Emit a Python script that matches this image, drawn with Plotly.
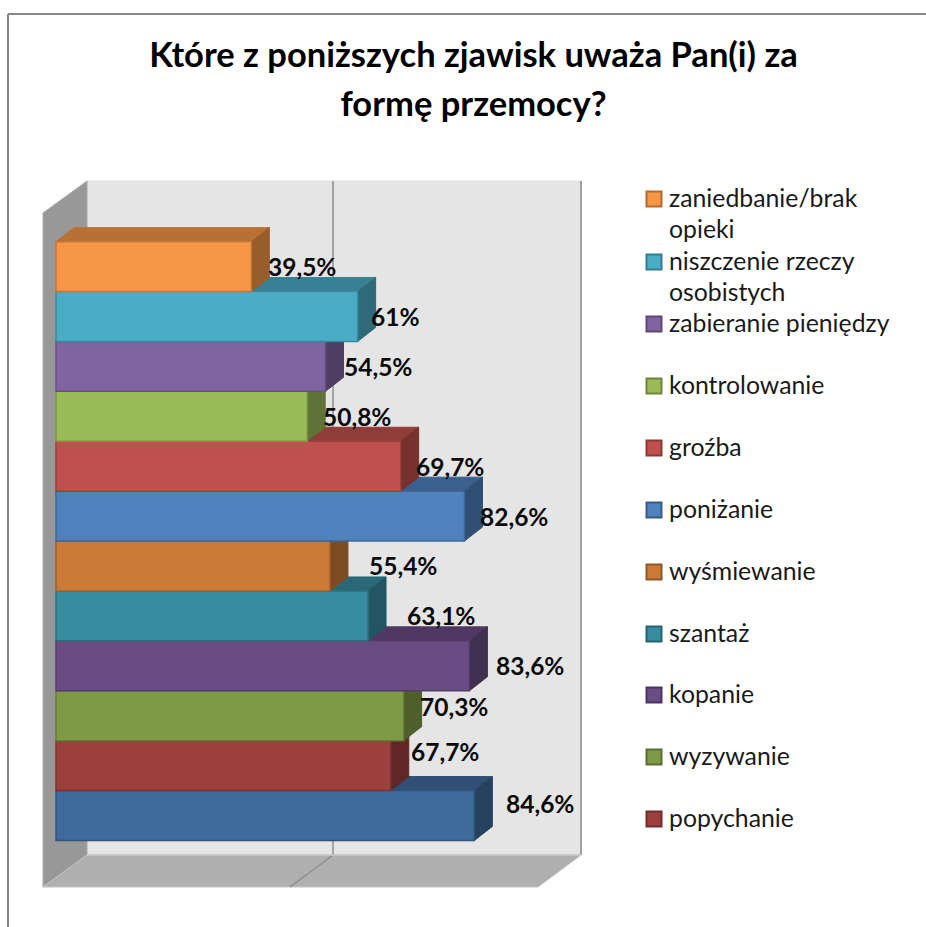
import plotly.graph_objects as go

# ---- data (listed bottom bar first) ----
categories = ["", "popychanie", "wyzywanie", "kopanie", "szantaż", "wyśmiewanie",
              "poniżanie", "groźba", "kontrolowanie", "zabieranie pieniędzy",
              "niszczenie rzeczy osobistych", "zaniedbanie/brak opieki"]
values = [84.6, 67.7, 70.3, 83.6, 63.1, 55.4, 82.6, 69.7, 50.8, 54.5, 61, 39.5]
title_lines = ["Które z poniższych zjawisk uważa Pan(i) za", "formę przemocy?"]
legend_lines = [["zaniedbanie/brak", "opieki"], ["niszczenie rzeczy", "osobistych"],
                ["zabieranie pieniędzy"], ["kontrolowanie"], ["groźba"], ["poniżanie"],
                ["wyśmiewanie"], ["szantaż"], ["kopanie"], ["wyzywanie"], ["popychanie"]]

# ---- styles ----
front_colors = ["#3F6A9C", "#9D403D", "#7F9A47", "#6A4C85", "#378C9F", "#CB7A37",
                "#4F81BD", "#C0504D", "#9BBB59", "#8064A2", "#4BACC6", "#F79646"]
legend_colors = ["#F79646", "#4BACC6", "#8064A2", "#9BBB59", "#C0504D", "#4F81BD",
                 "#CB7A37", "#378C9F", "#6A4C85", "#7F9A47", "#9D403D"]
label_nudge_x = [66, 54, 50, 61, 73, 73, 50, 49, 50, 52, 38, 51]
label_nudge_y = [12.5, 14, 9, 0, 0, 1, 0, 0, 0, 0, 0, 0]
W, H = 926, 927
FONT = "Lato, Carlito, Calibri, sans-serif"
PX_X, X0 = 4.945, 56.0
PX_Y, Y0 = 49.9, 815.5
DX, DY = 18 / PX_X, 14 / PX_Y


def shade(c, f):
    r, g, b = int(c[1:3], 16), int(c[3:5], 16), int(c[5:7], 16)
    return "#%02X%02X%02X" % (int(r * f), int(g * f), int(b * f))


def X(px):
    return (px - X0) / PX_X


def Y(py):
    return (Y0 - py) / PX_Y


def poly(pts, fill, line=None, lw=1):
    path = "M" + " L".join(f"{X(a):.4f},{Y(b):.4f}" for a, b in pts) + " Z"
    return dict(type="path", xref="x", yref="y", path=path, fillcolor=fill,
                line=dict(color=line or fill, width=lw), layer="below")


def seg(a, b, c, d, color, lw=1.5):
    return dict(type="line", xref="x", yref="y", x0=X(a), y0=Y(b), x1=X(c), y1=Y(d),
                line=dict(color=color, width=lw), layer="below")


fig = go.Figure()

# depth faces, lowest bar first so upper bars sit on top of lower ones
for i, (v, c) in enumerate(zip(values, front_colors)):
    top = shade(c, 0.75)
    side = shade(c, 0.62)
    fig.add_trace(go.Scatter(
        x=[0, v, v + DX, DX, 0], y=[i + .5, i + .5, i + .5 + DY, i + .5 + DY, i + .5],
        mode="lines", fill="toself", fillcolor=top, line=dict(color=top, width=1),
        hoverinfo="skip", showlegend=False))
    fig.add_trace(go.Scatter(
        x=[v, v + DX, v + DX, v, v], y=[i + .5, i + .5 + DY, i - .5 + DY, i - .5, i + .5],
        mode="lines", fill="toself", fillcolor=side, line=dict(color=side, width=1),
        hoverinfo="skip", showlegend=False))

# front faces on an overlaying pair of axes, so they cover the depth faces
fig.add_trace(go.Bar(
    x=values, y=list(range(len(values))), orientation="h", width=1, xaxis="x2", yaxis="y2",
    marker=dict(color=front_colors, line=dict(color=[shade(c, 0.8) for c in front_colors], width=1.5)),
    customdata=categories, hovertemplate="%{customdata}: %{x}%<extra></extra>", showlegend=False))

shapes = [
    poly([(87, 181), (581, 181), (581, 855), (87, 855)], "#E5E5E5", "#E0E0E0"),
    poly([(43, 213), (87, 181), (87, 855), (43, 887)], "#989898", "#A8A8A8"),
    poly([(43, 887), (87, 855), (581, 855), (538, 887)], "#AFAFAF", "#C4C4C4"),
    seg(581, 181, 581, 855, "#A0A0A0", 2),
    seg(333, 181, 333, 855, "#8E8E8E", 1.5),
    seg(333, 855, 290, 887, "#8E8E8E", 1.5),
    seg(87, 855, 581, 855, "#C8C8C8", 1.5),
    # frame
    dict(type="line", xref="paper", yref="paper", x0=8 / W, x1=1, y0=1 - 14 / H, y1=1 - 14 / H,
         line=dict(color="#868686", width=2)),
    dict(type="line", xref="paper", yref="paper", x0=8 / W, x1=8 / W, y0=1 - 14 / H, y1=0,
         line=dict(color="#868686", width=2)),
]

annotations = []
for i, v in enumerate(values):
    annotations.append(dict(
        x=v, y=i, xref="x", yref="y", xshift=label_nudge_x[i], yshift=label_nudge_y[i],
        text=f"{v:g}".replace(".", ",") + "%", showarrow=False,
        font=dict(family=FONT, size=24.5, color="#0A0A0A", weight="bold")))

# legend rows
LEG_X, KEY = 654, 15
legend_centres = [199, 262, 324, 386, 448, 510, 572, 634, 695, 757, 819]
for lines, c, cy in zip(legend_lines, legend_colors, legend_centres):
    shapes.append(dict(type="rect", xref="paper", yref="paper",
                       x0=(LEG_X - KEY / 2) / W, x1=(LEG_X + KEY / 2) / W,
                       y0=1 - (cy + KEY / 2) / H, y1=1 - (cy - KEY / 2) / H,
                       fillcolor=c, line=dict(color=shade(c, 0.72), width=2)))
    text = "<br>".join(f'<span style="font-size:24.8px">{t}</span>' for t in lines)
    annotations.append(dict(
        x=668 / W, y=1 - (cy - 17) / H, xref="paper", yref="paper", xanchor="left", yanchor="top",
        text=text, align="left", showarrow=False, borderpad=0,
        font=dict(family=FONT, size=24, color="#1A1A1A")))

title_text = "<br>".join(f'<span style="font-size:34.5px">{t}</span>' for t in title_lines)

fig.update_layout(
    width=W, height=H, margin=dict(l=0, r=0, t=0, b=0, pad=0),
    paper_bgcolor="white", plot_bgcolor="rgba(0,0,0,0)", showlegend=False, barmode="overlay",
    title=dict(text=title_text, x=473.5 / W, xanchor="center", y=1 - 67 / H, yanchor="top",
               font=dict(family=FONT, size=37.7, color="#000000", weight="bold")),
    xaxis=dict(range=[X(0), X(W)], visible=False, fixedrange=True),
    yaxis=dict(range=[Y(H), Y(0)], visible=False, fixedrange=True),
    xaxis2=dict(range=[X(0), X(W)], visible=False, overlaying="x", fixedrange=True),
    yaxis2=dict(range=[Y(H), Y(0)], visible=False, overlaying="y", fixedrange=True),
    shapes=shapes, annotations=annotations,
)

fig.write_html("out.html", config=dict(displayModeBar=False),
               post_script="document.body.style.margin='0';document.body.style.overflow='hidden';")
